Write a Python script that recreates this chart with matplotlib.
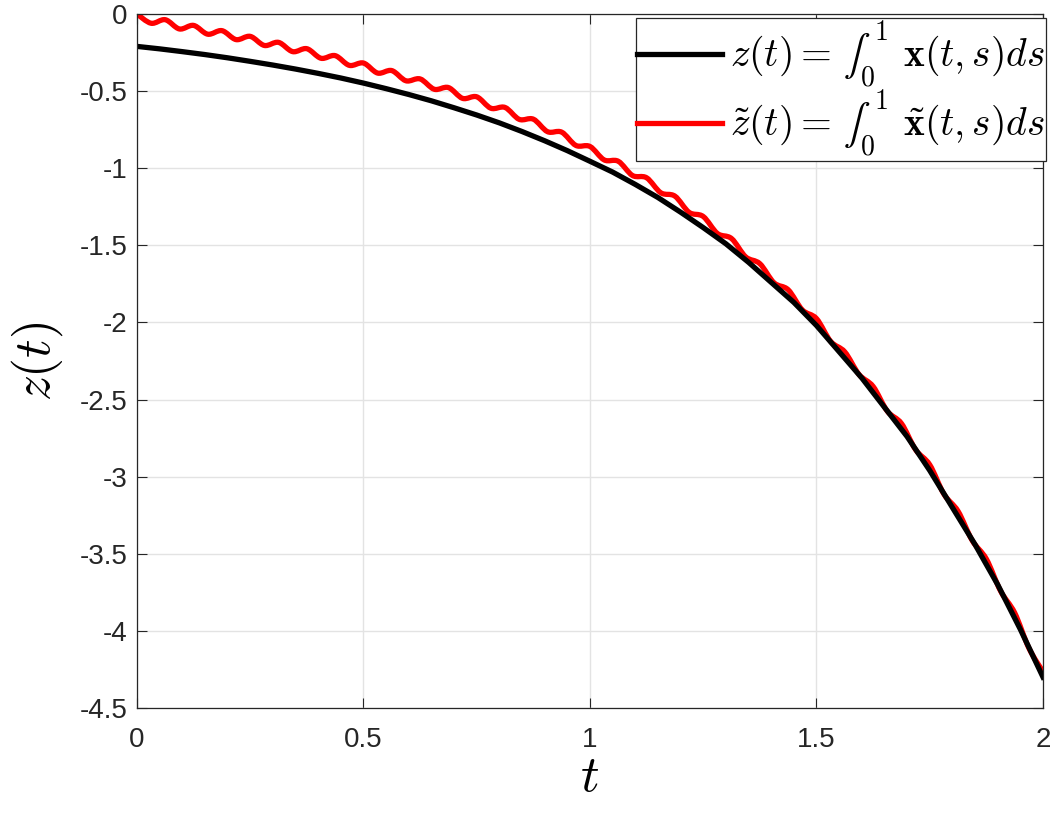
import numpy as np
import matplotlib.pyplot as plt
from matplotlib.ticker import FuncFormatter
from matplotlib.path import Path
from matplotlib.patches import PathPatch
from matplotlib.font_manager import FontProperties

plt.rcParams['font.family'] = ['Liberation Sans', 'DejaVu Sans']
plt.rcParams['mathtext.fontset'] = 'cm'
plt.rcParams['axes.unicode_minus'] = False
# Computer Modern faces for the legend, text-size integral taken from STIX
plt.rcParams['mathtext.rm'] = 'cmr10'
plt.rcParams['mathtext.it'] = 'cmmi10'
plt.rcParams['mathtext.bf'] = 'cmb10'
plt.rcParams['mathtext.fallback'] = 'stix'

# black curve z(t), sampled every 0.05
t_black = np.linspace(0, 2, 41)
z_black = [-0.210, -0.226, -0.244, -0.263, -0.284, -0.307, -0.331, -0.357, -0.385, -0.415,
           -0.448, -0.484, -0.522, -0.563, -0.608, -0.655, -0.706, -0.762, -0.822, -0.886,
           -0.955, -1.025, -1.105, -1.190, -1.285, -1.385, -1.490, -1.610, -1.740, -1.870,
           -2.020, -2.190, -2.360, -2.550, -2.740, -2.960, -3.200, -3.440, -3.700, -3.990,
           -4.300]

# red curve z~(t), sampled every 1/32 (peaks and troughs of the ripple)
t_red = np.linspace(0, 2, 65)
z_red = [0.000, -0.060, -0.037, -0.097, -0.074, -0.131, -0.108, -0.166, -0.145, -0.204,
         -0.184, -0.244, -0.225, -0.287, -0.270, -0.333, -0.318, -0.383, -0.367, -0.433,
         -0.421, -0.488, -0.477, -0.547, -0.537, -0.611, -0.606, -0.683, -0.682, -0.763,
         -0.766, -0.852, -0.859, -0.946, -0.955, -1.047, -1.062, -1.159, -1.181, -1.286,
         -1.313, -1.423, -1.456, -1.575, -1.619, -1.743, -1.788, -1.919, -1.975, -2.123,
         -2.191, -2.337, -2.415, -2.575, -2.655, -2.825, -2.923, -3.113, -3.224, -3.414,
         -3.534, -3.741, -3.883, -4.111, -4.265]

x_ticks = [0, 0.5, 1, 1.5, 2]
y_ticks = [0, -0.5, -1, -1.5, -2, -2.5, -3, -3.5, -4, -4.5]


def smooth_path(xs, ys):
    # curve through the samples, drawn as cubic Bezier pieces
    p = np.column_stack([xs, ys])
    ext = np.vstack([p[0], p, p[-1]])
    verts = [p[0]]
    codes = [Path.MOVETO]
    for i in range(len(p) - 1):
        c1 = ext[i + 1] + (ext[i + 2] - ext[i]) / 6.0
        c2 = ext[i + 2] - (ext[i + 3] - ext[i + 1]) / 6.0
        verts += [c1, c2, p[i + 1]]
        codes += [Path.CURVE4] * 3
    return Path(verts, codes)


fig = plt.figure(figsize=(10.56, 8.14), dpi=100)
ax = fig.add_axes([0.1297, 0.1302, 0.8580, 0.8526])

ax.plot(t_black, z_black, color='black', lw=3.8,
        label=r'$z(t) =\, \int_0^1\;\,\mathbf{x}(t,s)ds$')
ax.add_patch(PathPatch(smooth_path(t_red, z_red), facecolor='none', edgecolor='red',
                       lw=3.8, joinstyle='round', capstyle='butt'))
ax.plot([], [], color='red', lw=3.8,
        label=r'$\tilde{z}(t) =\, \int_0^1\;\,\tilde{\mathbf{x}}(t,s)ds$')

ax.set_xlim(0, 2)
ax.set_ylim(-4.5, 0)
ax.set_xticks(x_ticks)
ax.set_yticks(y_ticks)
fmt = FuncFormatter(lambda v, p: '%g' % v)
ax.xaxis.set_major_formatter(fmt)
ax.yaxis.set_major_formatter(fmt)
ax.tick_params(direction='in', top=True, right=True, labelsize=20, colors='#262626',
               length=7, width=0.8)
ax.tick_params(axis='x', pad=14)
ax.tick_params(axis='y', pad=7)
ax.grid(True, color='#e3e3e3', lw=1.0)
ax.set_axisbelow(True)
for s in ax.spines.values():
    s.set_color('#262626')
    s.set_linewidth(0.9)

ax.set_xlabel(r'$t$', fontsize=37, labelpad=0)
ax.set_ylabel(r'$z(t)$', fontsize=37, labelpad=10)

leg_font = FontProperties(size=28.5, math_fontfamily='custom')
leg = ax.legend(loc='upper right', bbox_to_anchor=(1.003, 0.994), prop=leg_font,
                handlelength=2.15, handletextpad=0.2, borderpad=0.02, labelspacing=-0.08,
                fancybox=False, framealpha=1, borderaxespad=0)
leg.get_frame().set_edgecolor('#262626')
leg.get_frame().set_linewidth(0.9)

plt.savefig('out.png', dpi=100)
